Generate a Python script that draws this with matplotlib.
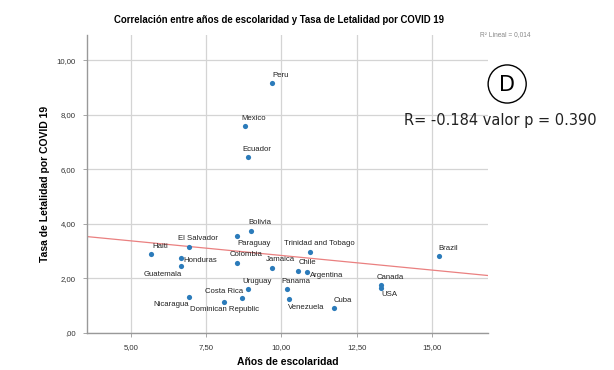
import numpy as np
import matplotlib
matplotlib.use("Agg")
import matplotlib.pyplot as plt
from matplotlib.ticker import FuncFormatter
from matplotlib.patches import Ellipse

plt.rcParams['font.family'] = ['Liberation Sans', 'DejaVu Sans']

# datos
countries = ["Peru", "Mexico", "Ecuador", "Bolivia", "Paraguay", "El Salvador",
             "Haiti", "Honduras", "Guatemala", "Colombia", "Jamaica",
             "Trinidad and Tobago", "Chile", "Argentina", "Uruguay", "Costa Rica",
             "Dominican Republic", "Nicaragua", "Panama", "Venezuela", "Cuba",
             "Brazil", "Canada", "USA"]
escolaridad = [9.68, 8.79, 8.89, 8.99, 8.51, 6.94, 5.66, 6.65, 6.65, 8.51, 9.67,
               10.95, 10.56, 10.86, 8.90, 8.70, 8.10, 6.94, 10.17, 10.26, 11.74,
               15.24, 13.30, 13.30]
letalidad = [9.16, 7.58, 6.45, 3.75, 3.56, 3.16, 2.88, 2.75, 2.45, 2.58, 2.40,
             2.98, 2.28, 2.23, 1.60, 1.27, 1.15, 1.33, 1.60, 1.23, 0.90,
             2.82, 1.75, 1.65]

# posicion de cada etiqueta (pixeles) respecto al punto
label_pos = {
    "Paraguay": (17, -8, "center"), "Honduras": (3, -3, "left"),
    "Guatemala": (-18, -8, "center"), "Argentina": (3, -3, "left"),
    "Costa Rica": (-18, 7, "center"), "Dominican Republic": (0, -8, "center"),
    "Nicaragua": (-18, -8, "center"), "Venezuela": (17, -8, "center"),
    "USA": (9, -7, "center"),
}

fig = plt.figure(figsize=(6.14, 3.70), dpi=100)
ax = fig.add_axes([0.1417, 0.10, 0.653, 0.805])

ax.scatter(escolaridad, letalidad, s=14, color="#2b7bba", zorder=3, linewidths=0)

for name, x, y in zip(countries, escolaridad, letalidad):
    dx, dy, ha = label_pos.get(name, (9, 8, "center"))
    ax.annotate(name, (x, y), xytext=(dx, dy), textcoords="offset pixels",
                ha=ha, va="center", fontsize=5.6, color="#222222")

# recta de regresion
x_min, x_max = 3.54, 16.86
b, a = np.polyfit(escolaridad, letalidad, 1)
xs = np.array([x_min, x_max])
ax.plot(xs, a + b * xs, color="#ea8080", lw=0.9, zorder=2)

ax.set_xlim(x_min, x_max)
ax.set_ylim(0, 10.92)
ax.set_xticks([5, 7.5, 10, 12.5, 15])
ax.set_yticks([0, 2, 4, 6, 8, 10])

def coma(v, pos):
    s = f"{v:.2f}".replace(".", ",")
    return s[1:] if s.startswith("0,") else s

ax.xaxis.set_major_formatter(FuncFormatter(coma))
ax.yaxis.set_major_formatter(FuncFormatter(coma))
ax.tick_params(labelsize=5.6, length=3, color="#999999", width=0.6, pad=5, labelcolor="#333333")
ax.grid(True, color="#d4d4d4", lw=0.9)
ax.set_axisbelow(True)
for s in ["top", "right"]:
    ax.spines[s].set_visible(False)
for s in ["left", "bottom"]:
    ax.spines[s].set_color("#999999")
    ax.spines[s].set_linewidth(1.0)

ax.set_xlabel("Años de escolaridad", fontsize=7.5, fontweight="bold", labelpad=4)
ax.set_ylabel("Tasa de Letalidad por COVID 19", fontsize=7.5, fontweight="bold", labelpad=5)
fig.text(0.455, 0.945, "Correlación entre años de escolaridad y Tasa de Letalidad por COVID 19",
         ha="center", va="center", fontsize=6.9, fontweight="bold")
fig.text(0.782, 0.907, "R² Lineal = 0,014", fontsize=4.8, color="#888888", va="center")

fig.patches.append(Ellipse((0.826, 0.773), 0.062, 0.103, transform=fig.transFigure,
                           fill=False, ec="black", lw=1.0))
fig.text(0.826, 0.771, "D", ha="center", va="center", fontsize=15, family="DejaVu Sans")
fig.text(0.9725, 0.675, "R= -0.184 valor p = 0.390", ha="right", va="center",
         fontsize=10.5, family="DejaVu Sans", color="#222222")

fig.savefig("out.png", dpi=100)
